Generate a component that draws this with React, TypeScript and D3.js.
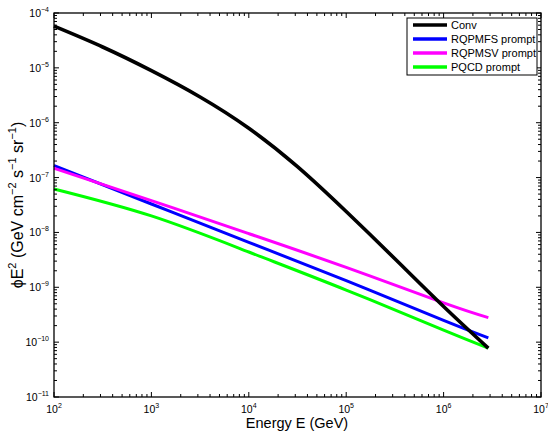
import React from "react";
import * as d3 from "d3";

// Energies (GeV) at which each flux curve is sampled
const energies = [1e2, 3.16e2, 1e3, 3.16e3, 1e4, 3.16e4, 1e5, 3.16e5, 1e6, 2.88e6];
// E^2-weighted fluxes (GeV cm^-2 s^-1 sr^-1)
const conv = [5.75e-5, 2.4e-5, 8.9e-6, 2.95e-6, 7.94e-7, 1.58e-7, 2.4e-8, 3.31e-9, 4.47e-10, 7.76e-11];

const promptEnergies = [1e2, 1e3, 1e4, 1e5, 1e6, 2.88e6];
const rqpmfs = [1.66e-7, 3.3e-8, 6.6e-9, 1.32e-9, 2.5e-10, 1.2e-10];
const rqpmsv = [1.48e-7, 3.8e-8, 9.5e-9, 2.3e-9, 5.2e-10, 2.8e-10];
const pqcd = [6.2e-8, 2.0e-8, 4.4e-9, 8.9e-10, 1.66e-10, 7.8e-11];

const seriesNames = ["Conv", "RQPMFS prompt", "RQPMSV prompt", "PQCD prompt"];
const seriesColors = ["#000000", "#0000ff", "#ff00ff", "#00ff00"];

const xDecades = [2, 3, 4, 5, 6, 7];
const yDecades = [-11, -10, -9, -8, -7, -6, -5, -4];

const W = 548;
const H = 441;
const left = 54;
const right = 541;
const top = 13;
const bottom = 397;
const font = "'Liberation Sans', Arial, sans-serif";

export default function App() {
  const x = d3.scaleLog().domain([1e2, 1e7]).range([left, right]);
  const y = d3.scaleLog().domain([1e-11, 1e-4]).range([bottom, top]);

  const line = d3
    .line<[number, number]>()
    .x((d) => x(d[0]))
    .y((d) => y(d[1]))
    .curve(d3.curveNatural);

  const series = [
    { xs: energies, ys: conv, w: 3.6 },
    { xs: promptEnergies, ys: rqpmfs, w: 3 },
    { xs: promptEnergies, ys: rqpmsv, w: 3 },
    { xs: promptEnergies, ys: pqcd, w: 3 },
  ];

  const xMinor: number[] = [];
  xDecades.slice(0, -1).forEach((p) => {
    for (let k = 2; k <= 9; k++) xMinor.push(k * Math.pow(10, p));
  });
  const yMinor: number[] = [];
  yDecades.slice(0, -1).forEach((p) => {
    for (let k = 2; k <= 9; k++) yMinor.push(k * Math.pow(10, p));
  });

  const majorLen = 5;
  const minorLen = 3;

  return (
    <svg
      width={W}
      height={H}
      style={{ position: "absolute", left: 0, top: 0, background: "#fff" }}
      fontFamily={font}
    >
      <rect width={W} height={H} fill="#fff" />

      {/* data curves, prompt ones first so Conv sits on top */}
      {[1, 2, 3, 0].map((i) => {
        const s = series[i];
        return (
          <path
            key={seriesNames[i]}
            d={line(s.xs.map((e, j) => [e, s.ys[j]] as [number, number])) || ""}
            fill="none"
            stroke={seriesColors[i]}
            strokeWidth={s.w}
            strokeLinejoin="round"
          />
        );
      })}

      {/* ticks, mirrored on all four sides */}
      <g stroke="#000" strokeWidth={1}>
        {xDecades.map((p) => {
          const px = x(Math.pow(10, p));
          return (
            <g key={"xM" + p}>
              <line x1={px} x2={px} y1={bottom} y2={bottom - majorLen} />
              <line x1={px} x2={px} y1={top} y2={top + majorLen} />
            </g>
          );
        })}
        {xMinor.map((v, i) => {
          const px = x(v);
          return (
            <g key={"xm" + i}>
              <line x1={px} x2={px} y1={bottom} y2={bottom - minorLen} />
              <line x1={px} x2={px} y1={top} y2={top + minorLen} />
            </g>
          );
        })}
        {yDecades.map((p) => {
          const py = y(Math.pow(10, p));
          return (
            <g key={"yM" + p}>
              <line x1={left} x2={left + majorLen} y1={py} y2={py} />
              <line x1={right} x2={right - majorLen} y1={py} y2={py} />
            </g>
          );
        })}
        {yMinor.map((v, i) => {
          const py = y(v);
          return (
            <g key={"ym" + i}>
              <line x1={left} x2={left + minorLen} y1={py} y2={py} />
              <line x1={right} x2={right - minorLen} y1={py} y2={py} />
            </g>
          );
        })}
      </g>

      {/* frame */}
      <rect
        x={left}
        y={top}
        width={right - left}
        height={bottom - top}
        fill="none"
        stroke="#000"
        strokeWidth={1.3}
      />

      {/* tick labels */}
      <g fontSize={10.5} fill="#000">
        {xDecades.map((p) => (
          <text key={"xl" + p} x={x(Math.pow(10, p))} y={413} textAnchor="middle">
            10
            <tspan fontSize={7} dy={-5}>
              {p}
            </tspan>
          </text>
        ))}
        {yDecades.map((p) => (
          <text key={"yl" + p} x={left - 5} y={y(Math.pow(10, p)) + 4} textAnchor="end">
            10
            <tspan fontSize={7} dy={-5}>
              {"\u2212" + Math.abs(p)}
            </tspan>
          </text>
        ))}
      </g>

      {/* axis titles */}
      <text x={297} y={428} fontSize={14.5} textAnchor="middle">
        Energy E (GeV)
      </text>
      <text
        transform={`translate(23,${(top + bottom) / 2}) rotate(-90)`}
        fontSize={16}
        textAnchor="middle"
      >
        ϕE
        <tspan fontSize={11} dy={-7}>2</tspan>
        <tspan dy={7}> (GeV cm</tspan>
        <tspan fontSize={11} dy={-7}>−2</tspan>
        <tspan dy={7}> s</tspan>
        <tspan fontSize={11} dy={-7}>−1</tspan>
        <tspan dy={7}> sr</tspan>
        <tspan fontSize={11} dy={-7}>−1</tspan>
        <tspan dy={7}>)</tspan>
      </text>

      {/* legend */}
      <g>
        <rect x={407} y={18} width={130} height={57} fill="#fff" stroke="#000" strokeWidth={1} />
        {seriesNames.map((name, i) => {
          const ly = 25 + i * 14;
          return (
            <g key={name}>
              <line x1={413} x2={447} y1={ly} y2={ly} stroke={seriesColors[i]} strokeWidth={3.5} />
              <text x={451} y={ly + 4} fontSize={11}>
                {name}
              </text>
            </g>
          );
        })}
      </g>
    </svg>
  );
}
